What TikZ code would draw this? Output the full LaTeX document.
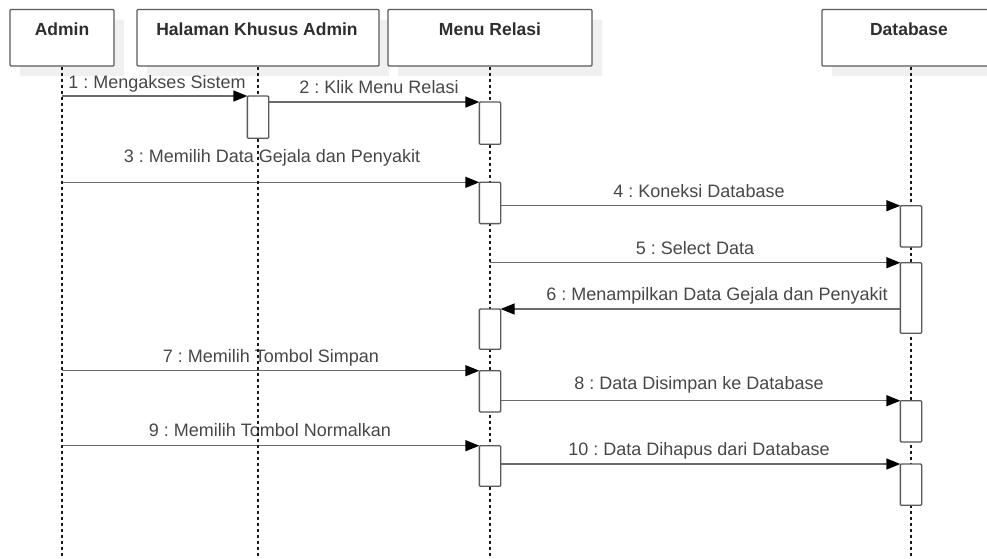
\documentclass[tikz,border=0pt]{standalone}
\usepackage{fontspec}
\setmainfont{Liberation Sans}
\usetikzlibrary{arrows.meta,shadows}
\definecolor{boxline}{HTML}{5A5A5A}
\definecolor{msgline}{HTML}{6A6A6A}
\definecolor{headtext}{HTML}{2E2E2E}
\definecolor{msgtext}{HTML}{474747}
\definecolor{shadowgray}{HTML}{F0F0F0}
\tikzset{
  headbox/.style={draw=boxline, line width=1.3pt, fill=white, rounded corners=1pt,
    minimum height=56.5pt, inner sep=0pt,
    drop shadow={shadow xshift=10pt, shadow yshift=-10pt, fill=shadowgray, opacity=1}},
  headlabel/.style={anchor=base, inner sep=0pt, text=headtext,
    font=\fontsize{17.5}{20}\selectfont\bfseries},
  lifeline/.style={draw=black!90, line width=1.3pt, dash pattern=on 3pt off 3pt},
  actbox/.style={draw=boxline, line width=1.3pt, fill=white, rounded corners=1pt,
    minimum width=20pt, inner sep=0pt, anchor=north},
  msg/.style={draw=msgline, line width=1.3pt,
    -{Triangle[length=14pt,width=11pt,color=black]}},
  msglabel/.style={anchor=base, inner sep=0pt, text=msgtext,
    font=\fontsize{18}{20}\selectfont},
}
\begin{document}
\frenchspacing
\begin{tikzpicture}[x=1pt,y=-1pt]
\useasboundingbox (0,0) rectangle (987,558);

% participants
\node[headbox, minimum width=104pt] (admin) at (62,37.75) {};
\node[headbox, minimum width=242pt] (hal) at (258,37.75) {};
\node[headbox, minimum width=204pt] (menu) at (490,37.75) {};
\node[headbox, minimum width=178pt] (db) at (911,37.75) {};
\node[headlabel] (adminL) at (62,35) {Admin};
\node[headlabel] (halL) at (257,35) {Halaman Khusus Admin};
\node[headlabel] (menuL) at (490,35) {Menu Relasi};
\node[headlabel] (dbL) at (909,35) {Database};

% lifeline ends
\coordinate (adminEnd) at (62,558);
\coordinate (halEnd) at (258,558);
\coordinate (menuEnd) at (490,558);
\coordinate (dbEnd) at (911,558);

% activation bars (placed first so messages can refer to them)
\path
  node[actbox, minimum height=41pt] (a1) at (258,96) {}
  node[actbox, minimum height=41pt] (a2) at (490,102) {}
  node[actbox, minimum height=40pt] (a3) at (490,182.3) {}
  node[actbox, minimum height=40pt] (d1) at (911,205.7) {}
  node[actbox, minimum height=69.3pt] (d2) at (911,262.7) {}
  node[actbox, minimum height=39pt] (a4) at (490,309) {}
  node[actbox, minimum height=40pt] (a5) at (490,370.7) {}
  node[actbox, minimum height=40pt] (d3) at (911,400.7) {}
  node[actbox, minimum height=39.3pt] (a6) at (490,445.7) {}
  node[actbox, minimum height=40pt] (d4) at (911,464) {};

% messages
\draw[msg] (admin.south |- a1.north) -- (a1.north west);
\draw[msg] (a1.east |- a2.north) -- (a2.north west);
\draw[msg] (admin.south |- a3.north) -- (a3.north west);
\draw[msg] (a3.east |- d1.north) -- (d1.north west);
\draw[msg] (menu.south |- d2.north) -- (d2.north west);
\draw[msg] (d2.west |- a4.north) -- (a4.north east);
\draw[msg] (admin.south |- a5.north) -- (a5.north west);
\draw[msg] (a5.east |- d3.north) -- (d3.north west);
\draw[msg] (admin.south |- a6.north) -- (a6.north west);
\draw[msg] (a6.east |- d4.north) -- (d4.north west);

% message labels
\node[msglabel] (l1) at (157,88) {1 : Mengakses Sistem};
\node[msglabel] (l2) at (379,93) {2 : Klik Menu Relasi};
\node[msglabel] (l3) at (272,162.7) {3 : Memilih Data Gejala dan Penyakit};
\node[msglabel] (l4) at (699,197.3) {4 : Koneksi Database};
\node[msglabel] (l5) at (695,254) {5 : Select Data};
\node[msglabel] (l6) at (717,300.7) {6 : Menampilkan Data Gejala dan Penyakit};
\node[msglabel] (l7) at (271,362.3) {7 : Memilih Tombol Simpan};
\node[msglabel] (l8) at (699,389.3) {8 : Data Disimpan ke Database};
\node[msglabel] (l9) at (270,436.7) {9 : Memilih Tombol Normalkan};
\node[msglabel] (l10) at (699,455) {10 : Data Dihapus dari Database};

% lifelines
\draw[lifeline] (admin.south) -- (adminEnd);
\draw[lifeline] (hal.south) -- (halEnd);
\draw[lifeline] (menu.south) -- (menuEnd);
\draw[lifeline] (db.south) -- (dbEnd);

% activation bars on top of the lifelines
\foreach \b in {a1,a2,a3,a4,a5,a6,d1,d2,d3,d4}
  \draw[draw=boxline, line width=1.3pt, fill=white, rounded corners=1pt]
    (\b.north west) rectangle (\b.south east);
\end{tikzpicture}
\end{document}
